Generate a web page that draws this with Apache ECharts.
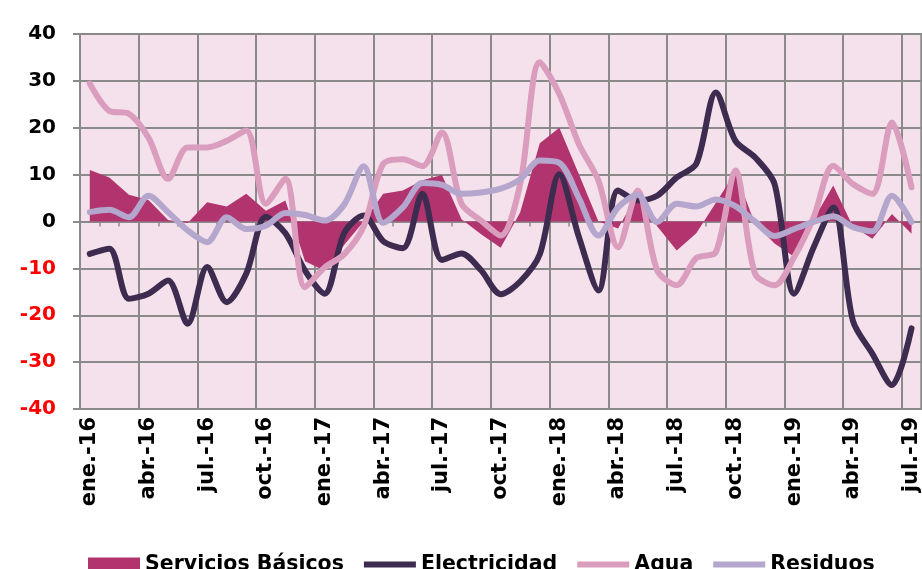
<!DOCTYPE html>
<html>
<head>
<meta charset="utf-8">
<script src="https://cdn.jsdelivr.net/npm/echarts@6/dist/echarts.min.js"></script>
<style>
  html, body { margin: 0; padding: 0; background: #ffffff; }
  #chart { width: 922px; height: 569px; }
</style>
</head>
<body>
<div id="chart"></div>
<script>
// Monthly categories, ene.-16 to jul.-19
const months = [
  'ene.-16','feb.-16','mar.-16','abr.-16','may.-16','jun.-16','jul.-16','ago.-16','sep.-16','oct.-16','nov.-16','dic.-16',
  'ene.-17','feb.-17','mar.-17','abr.-17','may.-17','jun.-17','jul.-17','ago.-17','sep.-17','oct.-17','nov.-17','dic.-17',
  'ene.-18','feb.-18','mar.-18','abr.-18','may.-18','jun.-18','jul.-18','ago.-18','sep.-18','oct.-18','nov.-18','dic.-18',
  'ene.-19','feb.-19','mar.-19','abr.-19','may.-19','jun.-19','jul.-19'
];

const serviciosBasicos = [11.0, 9.4, 5.7, 4.6, 0.3, -0.3, 4.1, 3.2, 5.9, 2.3, 4.5, -8.5, -10.5, -5.0, 0.0, 5.9, 6.6, 8.8, 9.9, 0.5,
  -2.7, -5.6, 2.0, 16.7, 20.0, 10.1, 0.0, -1.5, 5.9, -1.0, -6.2, -2.5, 4.0, 10.5, -0.5, -4.7, -7.5, 0.5, 7.7, -1.0, -3.7, 1.6, -2.6];

const electricidad = [-6.9, -5.8, -16.5, -15.4, -12.6, -21.8, -9.7, -17.2, -11.1, 1.0, -2.5, -10.5, -15.4, -2.5, 1.3, -4.2, -5.7, 5.9, -8.2, -6.8,
  -10.4, -15.5, -12.8, -7.0, 10.1, -3.3, -14.7, 6.6, 4.5, 5.5, 9.4, 12.3, 27.5, 17.2, 13.7, 8.0, -15.4, -5.5, 3.0, -21.1, -28.2, -34.9, -22.8];

const agua = [29.4, 23.6, 23.0, 17.9, 9.1, 15.8, 15.8, 17.2, 19.4, 3.8, 9.1, -14.0, -9.8, -7.0, -1.0, 12.3, 13.3, 11.8, 19.0, 3.8,
  0.2, -3.0, 8.0, 34.0, 27.2, 16.5, 8.7, -5.5, 6.6, -10.4, -13.6, -7.8, -6.5, 10.9, -11.1, -13.6, -7.6, 0.9, 11.9, 8.0, 5.9, 21.1, 7.3];

const residuos = [2.0, 2.5, 0.9, 5.5, 2.0, -1.9, -4.4, 0.9, -1.6, -0.9, 1.8, 1.4, 0.2, 3.6, 11.8, -0.3, 3.0, 8.2, 7.8, 5.9,
  6.2, 7.0, 9.0, 13.0, 12.5, 5.0, -3.0, 3.0, 5.7, -0.1, 3.8, 3.2, 4.7, 3.3, 0.0, -3.1, -1.6, -0.1, 1.1, -1.2, -2.1, 5.5, -0.1];

// Value axis range
const yMin = -40, yMax = 40, yStep = 10;

const FONT = 'DejaVu Sans';
const GRID_COLOR = '#8a8a8a';
const COLORS = {
  servicios: '#b1346f',
  electricidad: '#3e2c50',
  agua: '#da9dbe',
  residuos: '#b4a6cc'
};

const lineSeries = (name, data, color) => ({
  name: name,
  type: 'line',
  data: data,
  smooth: 0.3,
  symbol: 'none',
  xAxisIndex: 0,
  itemStyle: { color: color },
  lineStyle: { color: color, width: 6, cap: 'round', join: 'round' },
  z: 3
});

const chart = echarts.init(document.getElementById('chart'), null, { renderer: 'canvas' });

chart.setOption({
  animation: false,
  grid: {
    left: 80, right: 0, top: 34, bottom: 160,
    show: true,
    backgroundColor: '#f4e1eb',
    borderColor: GRID_COLOR,
    borderWidth: 2
  },
  legend: {
    left: 83,
    top: 549,
    itemWidth: 52,
    itemHeight: 14,
    itemGap: 20,
    textStyle: { fontFamily: FONT, fontWeight: 'bold', fontSize: 20.5, color: '#000000' },
    data: [
      { name: 'Servicios Básicos', icon: 'rect' },
      { name: 'Electricidad', icon: 'path://M0,0H52V6H0Z' },
      { name: 'Agua', icon: 'path://M0,0H52V6H0Z' },
      { name: 'Residuos', icon: 'path://M0,0H52V6H0Z' }
    ]
  },
  xAxis: [
    {
      type: 'category',
      data: months,
      position: 'bottom',
      boundaryGap: true,
      axisLine: { show: false, onZero: false },
      axisTick: { show: false },
      axisLabel: {
        interval: 2,
        rotate: 90,
        margin: 8,
        fontFamily: FONT,
        fontWeight: 'bold',
        fontSize: 21,
        color: '#000000'
      },
      splitLine: { show: true, interval: 2, lineStyle: { color: GRID_COLOR, width: 2 } }
    },
    {
      // horizontal axis line crossing at zero, with a tick between each month
      type: 'category',
      data: months,
      position: 'bottom',
      boundaryGap: true,
      axisLine: { show: true, onZero: true, lineStyle: { color: GRID_COLOR, width: 2 } },
      axisTick: { show: true, interval: 0, length: 5, lineStyle: { color: GRID_COLOR, width: 1.5 } },
      axisLabel: { show: false },
      splitLine: { show: false }
    }
  ],
  yAxis: {
    type: 'value',
    min: yMin,
    max: yMax,
    interval: yStep,
    axisLine: { show: true, lineStyle: { color: GRID_COLOR, width: 2 } },
    axisTick: { show: true, length: 7, lineStyle: { color: GRID_COLOR, width: 2 } },
    splitLine: { show: true, lineStyle: { color: GRID_COLOR, width: 2 } },
    axisLabel: {
      margin: 24,
      fontFamily: FONT,
      fontWeight: 'bold',
      fontSize: 20,
      color: (v) => (Number(v) < 0 ? '#ff0000' : '#000000')
    }
  },
  series: [
    {
      name: 'Servicios Básicos',
      type: 'line',
      data: serviciosBasicos,
      symbol: 'none',
      xAxisIndex: 0,
      itemStyle: { color: COLORS.servicios },
      lineStyle: { width: 0, color: COLORS.servicios },
      areaStyle: { color: COLORS.servicios, opacity: 1 },
      z: 2
    },
    lineSeries('Electricidad', electricidad, COLORS.electricidad),
    lineSeries('Agua', agua, COLORS.agua),
    lineSeries('Residuos', residuos, COLORS.residuos)
  ]
});
</script>
</body>
</html>
